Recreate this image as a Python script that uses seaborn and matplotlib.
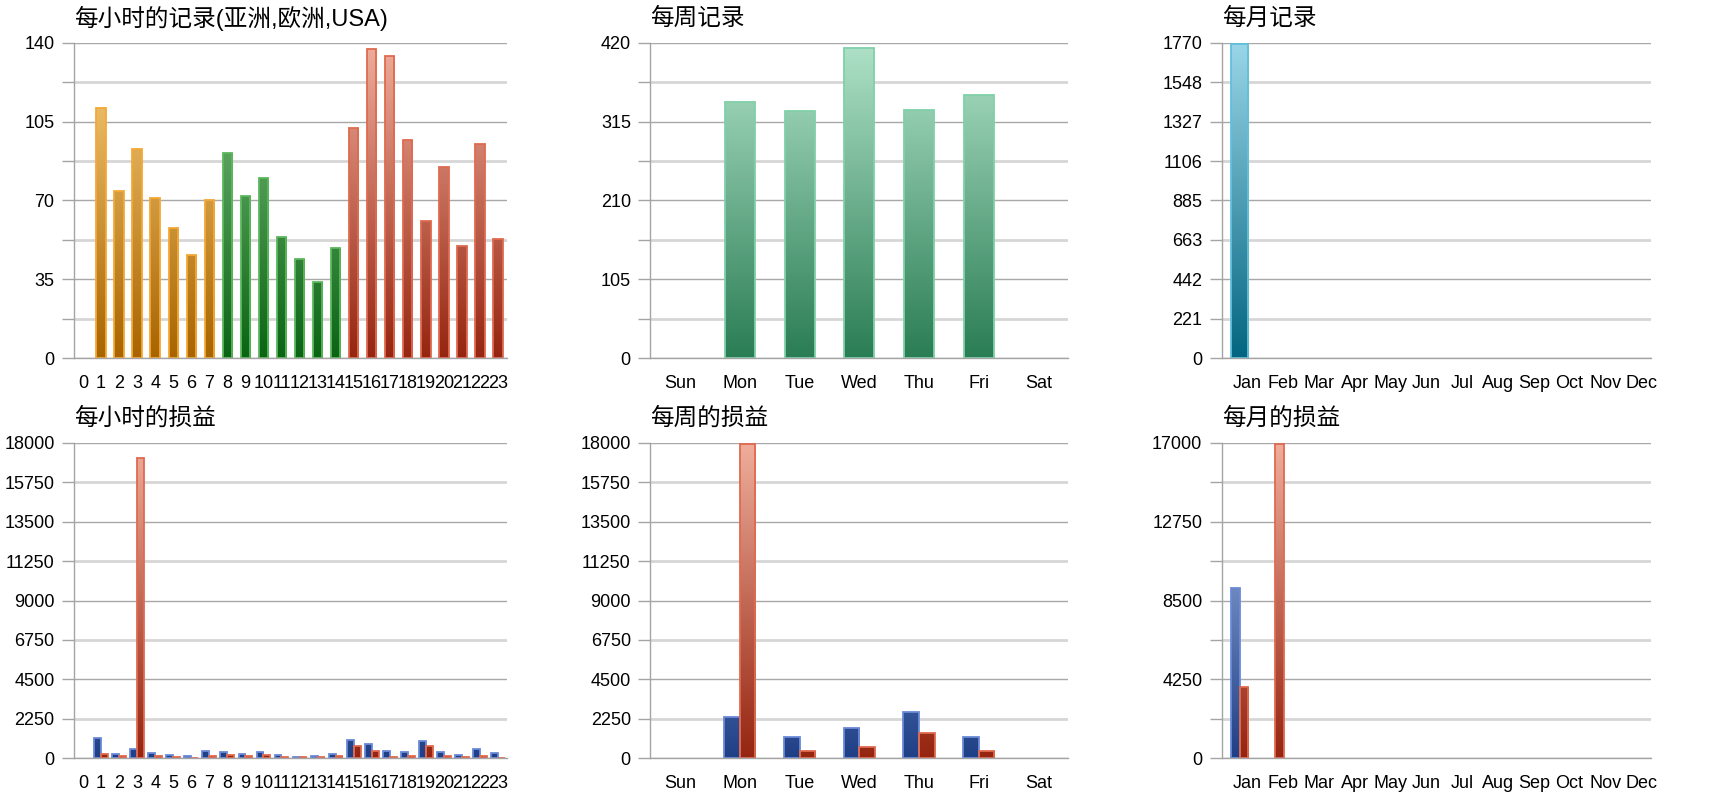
import numpy as np
import pandas as pd
import matplotlib
matplotlib.use("Agg")
import matplotlib.pyplot as plt
from matplotlib.colors import LinearSegmentedColormap, to_rgba
from matplotlib.transforms import ScaledTranslation
import seaborn as sns

# ---------------- data ----------------
hour_labels = ["0", "1", "2", "3", "4", "5", "6", "7", "8", "9", "10", "11",
               "12", "13", "14", "15", "16", "17", "18", "19", "20", "21", "22", "23"]
hour_region = ["亚洲"] * 8 + ["欧洲"] * 7 + ["USA"] * 9
hourly_records = [0, 111, 74, 93, 71, 58, 46, 70, 91, 72, 80, 54,
                  44, 34, 49, 102, 137, 134, 97, 61, 85, 50, 95, 53]

day_labels = ["Sun", "Mon", "Tue", "Wed", "Thu", "Fri", "Sat"]
weekly_records = [0, 341, 329, 413, 330, 350, 0]

month_labels = ["Jan", "Feb", "Mar", "Apr", "May", "Jun",
                "Jul", "Aug", "Sep", "Oct", "Nov", "Dec"]
monthly_records = [1761, 0, 0, 0, 0, 0, 0, 0, 0, 0, 0, 0]

hourly_profit = [0, 1140, 247, 551, 304, 190, 133, 399, 361, 247, 361, 171,
                 76, 133, 247, 1064, 836, 399, 380, 969, 342, 171, 532, 285]
hourly_loss = [0, 247, 133, 17126, 133, 76, 38, 133, 171, 114, 171, 57,
               57, 76, 133, 703, 418, 95, 133, 722, 133, 76, 152, 38]

weekly_profit = [0, 2338, 1235, 1730, 2642, 1235, 0]
weekly_loss = [0, 17905, 418, 665, 1426, 418, 0]

monthly_profit = [9191, 0, 0, 0, 0, 0, 0, 0, 0, 0, 0, 0]
monthly_loss = [3859, 16946, 0, 0, 0, 0, 0, 0, 0, 0, 0, 0]

titles = ["每小时的记录(亚洲,欧洲,USA)", "每周记录", "每月记录",
          "每小时的损益", "每周的损益", "每月的损益"]

# y tick specs: (major ticks, major labels, minor ticks, minor labels)
yt_hour_rec = ([0, 35, 70, 105, 140], ["0", "35", "70", "105", "140"],
               [17.5, 52.5, 87.5, 122.5], None)
yt_week_rec = ([0, 105, 210, 315, 420], ["0", "105", "210", "315", "420"],
               [52.5, 157.5, 262.5, 367.5], None)
yt_month_rec = ([0, 442.5, 885, 1327.5, 1770], ["0", "442", "885", "1327", "1770"],
                [221.25, 663.75, 1106.25, 1548.75], ["221", "663", "1106", "1548"])
yt_pl = ([0, 4500, 9000, 13500, 18000], ["0", "4500", "9000", "13500", "18000"],
         [2250, 6750, 11250, 15750], ["2250", "6750", "11250", "15750"])
yt_month_pl = ([0, 4250, 8500, 12750, 17000], ["0", "4250", "8500", "12750", "17000"],
               [2125, 6375, 10625, 14875], None)

# ---------------- style ----------------
sns.set_style("white")
plt.rcParams["font.family"] = ["Liberation Sans", "Noto Sans CJK SC", "DejaVu Sans"]

# base colour -> (bottom, top, edge)
grad = {
    "#c07a10": ("#a86400", "#fad080", "#f5a834"),   # orange
    "#2a8a30": ("#0a6414", "#84c484", "#5cb85c"),   # green
    "#c05040": ("#952510", "#efae9c", "#e06a50"),   # red
    "#40a070": ("#2a7d55", "#b0e2c8", "#80d0a8"),   # weekly green
    "#208aa8": ("#036580", "#9ad6e8", "#60c0dc"),   # teal
    "#3050a0": ("#1f3f86", "#b0c4f0", "#6a8ad8"),   # blue
}

fig = plt.figure(figsize=(17.2, 8.0), dpi=100)
W, H = 1720.0, 800.0
cols = [(74, 507), (650.3, 1068.3), (1221.7, 1651)]
rows = [(42.7, 358.3), (442.7, 758.3)]
axes = []
for r in rows:
    for c in cols:
        axes.append(fig.add_axes([c[0] / W, 1 - r[1] / H, (c[1] - c[0]) / W, (r[1] - r[0]) / H]))

GRAY = "#a4a4a4"
TICKSIZE = 13


def gradient_bars(ax, ytop):
    for p in list(ax.patches):
        h = p.get_height()
        fc = p.get_facecolor()
        key = None
        for k in grad:
            if np.allclose(to_rgba(k), fc, atol=0.01):
                key = k
        if key is None:
            continue
        bot, top, edge = grad[key]
        if h <= 0:
            p.set_visible(False)
            continue
        cmap = LinearSegmentedColormap.from_list("g", [bot, top])
        x0 = p.get_x()
        x1 = x0 + p.get_width()
        img = ax.imshow(np.linspace(0, 1, 256).reshape(-1, 1), cmap=cmap, vmin=0, vmax=1,
                        origin="lower", extent=(x0, x1, 0, ytop), aspect="auto",
                        interpolation="bilinear", zorder=0.9)
        img.set_clip_path(p)
        p.set_facecolor("none")
        p.set_edgecolor(edge)
        p.set_linewidth(1.3)
        p.set_zorder(1)


def style(ax, ncat, labels, yspec, title, xoff=0):
    maj, majl, mnr, mnrl = yspec
    ytop = maj[-1]
    gradient_bars(ax, ytop)
    ax.set_xlim(-0.5, ncat - 0.5)
    ax.set_ylim(0, ytop)
    ax.set_xticks(range(ncat))
    ax.set_xticklabels(labels)
    ax.set_xticks([i - 0.5 for i in range(ncat + 1)], minor=True)
    ax.set_yticks(maj)
    ax.set_yticklabels(majl)
    ax.set_yticks(mnr, minor=True)
    if mnrl is not None:
        ax.set_yticklabels(mnrl, minor=True)
    ax.tick_params(axis="x", which="major", length=0, pad=12, labelsize=TICKSIZE, labelcolor="black")
    ax.tick_params(axis="x", which="minor", length=10, width=1, color=GRAY, direction="out")
    ax.tick_params(axis="y", which="both", length=9, width=1, color=GRAY, pad=5,
                   labelsize=TICKSIZE, labelcolor="black", direction="out", left=True)
    ax.set_axisbelow(True)
    ax.yaxis.grid(True, which="major", color="#a8a8a8", lw=1.0)
    ax.yaxis.grid(True, which="minor", color="#d6d6d6", lw=2.0)
    ax.xaxis.grid(False)
    for s in ["top", "right"]:
        ax.spines[s].set_visible(False)
    for s in ["left", "bottom"]:
        ax.spines[s].set_color(GRAY)
        ax.spines[s].set_linewidth(1.0)
    ax.set_xlabel("")
    ax.set_ylabel("")
    if xoff:
        for lab in ax.get_xticklabels():
            lab.set_transform(lab.get_transform() + ScaledTranslation(xoff / 100, 0, fig.dpi_scale_trans))
    ax.text(0, 1, title, transform=ax.transAxes + ScaledTranslation(0, 24 / 100, fig.dpi_scale_trans),
            ha="left", va="center", fontsize=17, color="black")


# ---- hourly records ----
df1 = pd.DataFrame({"hour": hour_labels, "value": hourly_records, "region": hour_region})
sns.barplot(data=df1, x="hour", y="value", hue="region", order=hour_labels,
            hue_order=["亚洲", "欧洲", "USA"],
            palette={"亚洲": "#c07a10", "欧洲": "#2a8a30", "USA": "#c05040"},
            saturation=1, dodge=False, width=0.52, legend=False, ax=axes[0])
style(axes[0], 24, hour_labels, yt_hour_rec, titles[0])

# ---- weekly records ----
df2 = pd.DataFrame({"day": day_labels, "value": weekly_records})
sns.barplot(data=df2, x="day", y="value", order=day_labels, color="#40a070",
            saturation=1, width=0.5, ax=axes[1])
style(axes[1], 7, day_labels, yt_week_rec, titles[1])

# ---- monthly records ----
df3 = pd.DataFrame({"month": month_labels, "value": monthly_records})
sns.barplot(data=df3, x="month", y="value", order=month_labels, color="#208aa8",
            saturation=1, width=0.48, ax=axes[2])
style(axes[2], 12, month_labels, yt_month_rec, titles[2], xoff=8)


def pl_frame(cats, profit, loss):
    return pd.DataFrame({
        "cat": list(cats) + list(cats),
        "value": list(profit) + list(loss),
        "kind": ["profit"] * len(cats) + ["loss"] * len(cats),
    })


pal = {"profit": "#3050a0", "loss": "#c05040"}

df4 = pl_frame(hour_labels, hourly_profit, hourly_loss)
sns.barplot(data=df4, x="cat", y="value", hue="kind", order=hour_labels,
            hue_order=["profit", "loss"], palette=pal, saturation=1,
            width=0.76, legend=False, ax=axes[3])
style(axes[3], 24, hour_labels, yt_pl, titles[3])

df5 = pl_frame(day_labels, weekly_profit, weekly_loss)
sns.barplot(data=df5, x="cat", y="value", hue="kind", order=day_labels,
            hue_order=["profit", "loss"], palette=pal, saturation=1,
            width=0.52, legend=False, ax=axes[4])
style(axes[4], 7, day_labels, yt_pl, titles[4])

df6 = pl_frame(month_labels, monthly_profit, monthly_loss)
sns.barplot(data=df6, x="cat", y="value", hue="kind", order=month_labels,
            hue_order=["profit", "loss"], palette=pal, saturation=1,
            width=0.48, legend=False, ax=axes[5])
style(axes[5], 12, month_labels, yt_month_pl, titles[5], xoff=8)

fig.savefig("out.png", dpi=100, facecolor="white")
